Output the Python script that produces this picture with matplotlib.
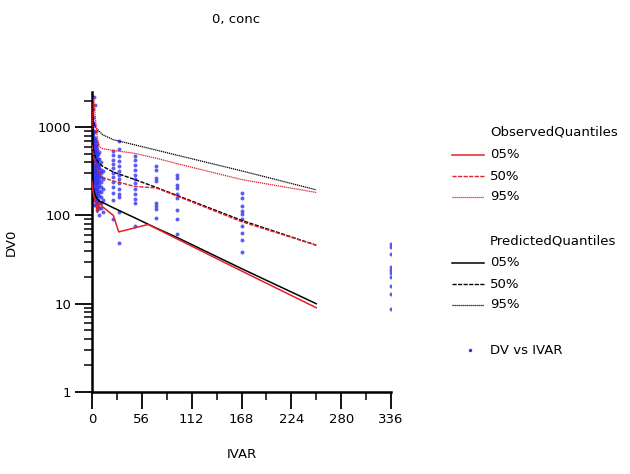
"""
plot.py
Observed vs predicted quantiles of DV0 over IVAR (log scale).
"""
import matplotlib
matplotlib.use("Agg")
import matplotlib.pyplot as plt
from matplotlib.lines import Line2D
import numpy as np

# --- Quantile lines ---
obs_x05 = [0, 1, 2, 4, 6, 8, 12, 24, 30, 63, 96, 168, 252]
obs_y05 = [240, 190, 170, 140, 108, 140, 125, 100, 65, 79, 54, 23.5, 9]
obs_x50 = [0, 1, 2, 4, 8, 12, 24, 30, 48, 72, 96, 168, 252]
obs_y50 = [620, 520, 450, 380, 300, 270, 245, 238, 213, 205, 165, 85, 46]
obs_x95 = [0, 1, 2, 4, 6, 8, 12, 24, 48, 72, 96, 168, 252]
obs_y95 = [950, 1500, 2100, 1200, 750, 600, 570, 545, 505, 445, 385, 255, 182]

pred_x = [0, 1, 2, 4, 8, 12, 24, 48, 72, 96, 168, 252]
pred_y05 = [250, 220, 190, 165, 145, 140, 122, 94, 72, 56, 25, 10]
pred_y50 = [650, 600, 530, 450, 390, 360, 310, 255, 208, 168, 88, 46]
pred_y95 = [1300, 1250, 1150, 1000, 900, 820, 720, 630, 550, 480, 320, 195]

# --- Observations (DV vs IVAR) ---
obs_points = {
    0.25: [210, 260, 290, 330, 360, 410, 450, 500, 540, 590, 640, 700, 760, 880, 1000, 1250],
    0.5: [180, 220, 240, 280, 310, 350, 380, 420, 450, 490, 520, 560, 600, 650, 700, 820, 950, 1150],
    1: [150, 190, 210, 250, 280, 320, 350, 390, 420, 460, 500, 540, 580, 630, 680, 800, 900, 1300, 1600],
    1.5: [170, 200, 240, 270, 300, 340, 370, 410, 440, 480, 530, 570, 620, 720, 850, 1100],
    2: [130, 160, 200, 230, 260, 300, 330, 370, 400, 430, 470, 510, 560, 640, 740, 870, 1050, 2200],
    3: [150, 170, 200, 230, 260, 300, 330, 360, 400, 430, 470, 510, 550, 590, 690, 760, 1800],
    4: [140, 160, 190, 220, 250, 280, 320, 350, 380, 420, 450, 490, 520, 600, 700, 900],
    5: [130, 155, 180, 210, 240, 270, 300, 340, 370, 410, 460, 530, 620],
    6: [115, 140, 170, 200, 230, 260, 290, 320, 350, 380, 410, 480, 560, 650],
    7: [125, 150, 180, 210, 240, 270, 300, 340, 380, 430, 500],
    8: [100, 120, 140, 165, 190, 220, 250, 280, 310, 340, 370, 440, 520],
    10: [120, 140, 160, 185, 210, 240, 270, 300, 330, 400],
    12: [110, 150, 200, 260, 320],
    24: [530, 480, 420, 380, 340, 300, 270, 240, 210, 180, 150, 90],
    30: [690, 560, 470, 410, 360, 320, 290, 260, 230, 200, 175, 160, 108, 49],
    48: [470, 420, 370, 330, 290, 260, 230, 200, 175, 155, 140, 75],
    72: [366, 331, 268, 245, 139, 128, 117, 94],
    96: [290, 268, 219, 206, 173, 159, 114, 90, 61],
    168: [180, 159, 128, 112, 103, 90, 75, 63, 53, 39],
    336: [48, 44, 37, 26, 24, 22, 20, 16, 13, 8.6],
}
ivar = [t for t, vals in obs_points.items() for _ in vals]
dv = [v for vals in obs_points.values() for v in vals]

x_ticks = [0, 56, 112, 168, 224, 280, 336]
y_ticks = [1, 10, 100, 1000]

RED = "#e0202a"
BLUE = "#3535ee"
plt.rcParams["font.family"] = ["DejaVu Sans"]

fig = plt.figure(figsize=(6.3, 4.74), dpi=100)
ax = fig.add_axes([92 / 630, 1 - 392 / 474, 299 / 630, 300 / 474])

ax.scatter(ivar, dv, s=8, color=BLUE, alpha=0.8, linewidths=0, zorder=2)

ax.plot(obs_x05, obs_y05, color=RED, lw=1.1, zorder=4)
ax.plot(obs_x50, obs_y50, color=RED, lw=1.0, ls=(0, (3, 1)), zorder=4)
ax.plot(obs_x95, obs_y95, color=RED, lw=0.9, ls=(0, (1, 0.6)), zorder=4)
ax.plot(pred_x, pred_y05, color="black", lw=1.1, zorder=3)
ax.plot(pred_x, pred_y50, color="black", lw=1.0, ls=(0, (3, 1)), zorder=3)
ax.plot(pred_x, pred_y95, color="black", lw=0.9, ls=(0, (1, 0.6)), zorder=3)

ax.set_yscale("log")
ax.set_xlim(0, 336)
ax.set_ylim(1, 2500)
ax.set_xticks(x_ticks)
ax.set_xticks([28, 84, 140, 196, 252, 308], minor=True)
ax.set_yticks(y_ticks)
ax.set_yticklabels([str(v) for v in y_ticks])
ax.yaxis.set_minor_locator(matplotlib.ticker.LogLocator(base=10, subs=np.arange(2, 10)))
ax.yaxis.set_minor_formatter(matplotlib.ticker.NullFormatter())

for side in ["top", "right"]:
    ax.spines[side].set_visible(False)
for side in ["left", "bottom"]:
    ax.spines[side].set_linewidth(1.8)
ax.tick_params(which="major", length=12, width=1.3, labelsize=9.5, pad=3)
ax.tick_params(which="minor", length=6, width=1.1)
ax.patch.set_visible(False)

ax.set_xlabel("IVAR", fontsize=9.5, labelpad=16)
ax.set_ylabel("DV0", fontsize=9.5, labelpad=14)
fig.text(236 / 630, 1 - 20 / 474, "0, conc", ha="center", va="center", fontsize=9.5)

# --- Legend (drawn by hand to match the layout) ---
def px(x, y):
    return x / 630, 1 - y / 474

def legend_row(y, label, color=None, ls="-", lw=1.1):
    x0, yy = px(452, y)
    x1, _ = px(484, y)
    fig.add_artist(Line2D([x0, x1], [yy, yy], color=color, ls=ls, lw=lw))
    fig.text(*px(490, y), label, ha="left", va="center", fontsize=9.5)

fig.text(*px(490, 132), "ObservedQuantiles", ha="left", va="center", fontsize=9.5)
legend_row(155, "05%", RED, "-", 1.1)
legend_row(176, "50%", RED, (0, (3, 1)), 1.0)
legend_row(197, "95%", RED, (0, (1, 0.6)), 0.9)
fig.text(*px(490, 241), "PredictedQuantiles", ha="left", va="center", fontsize=9.5)
legend_row(263, "05%", "black", "-", 1.1)
legend_row(284, "50%", "black", (0, (3, 1)), 1.0)
legend_row(305, "95%", "black", (0, (1, 0.6)), 0.9)
fig.add_artist(Line2D([px(470, 350)[0]], [px(470, 350)[1]], marker="o", ms=1.5,
                      color=BLUE, ls="none"))
fig.text(*px(490, 350), "DV vs IVAR", ha="left", va="center", fontsize=9.5)

fig.savefig("out.png", dpi=100)
